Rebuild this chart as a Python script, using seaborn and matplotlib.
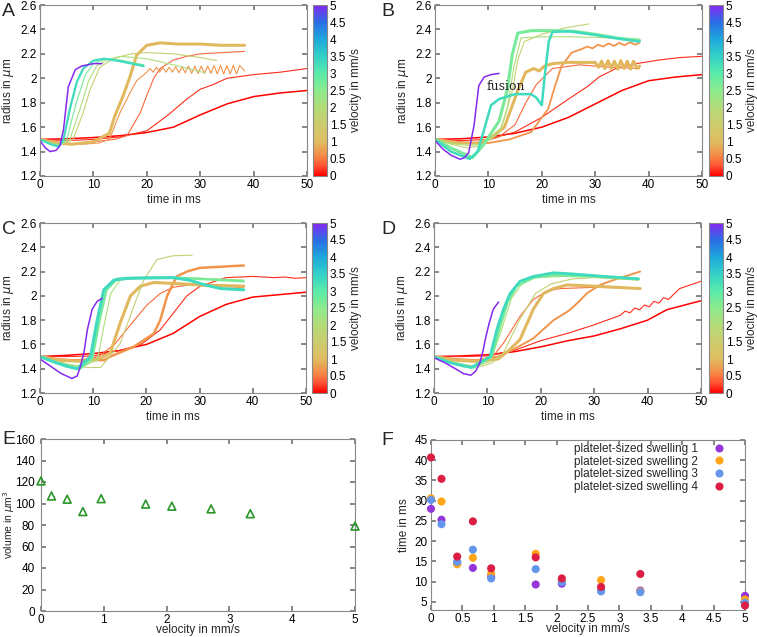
import numpy as np
import pandas as pd
import seaborn as sns
import matplotlib.pyplot as plt
from matplotlib.colors import LinearSegmentedColormap, Normalize
from matplotlib.cm import ScalarMappable
from matplotlib.ticker import FormatStrFormatter, MultipleLocator

# velocities of the ten simulations (mm/s)
velocities = [0, 0.167, 0.417, 0.667, 0.958, 1.667, 2.083, 2.708, 3.333, 5.0]

# ---- panel A: radius vs time, one curve per velocity ----
a_time = [
    [0, 5, 10, 15, 20, 25, 30, 35, 40, 45, 50],
    [0, 5, 10, 15, 20, 24, 27.5, 30, 32.5, 35, 40, 45, 50],
    [0, 3, 6, 10, 14, 16.3, 18.8, 20, 21.3, 22.5, 25, 27.5, 30, 34, 38.3],
    [0, 4, 8, 11, 13, 15, 16.9, 18.1, 19.2, 20, 20.6, 21.2, 21.8, 22.4, 23.0, 23.6, 24.2, 24.8, 25.4, 26,
     26.6, 27.2, 27.8, 28.4, 29, 29.6, 30.2, 30.8, 31.4, 32, 32.6, 33.2, 33.8, 34.4, 35, 35.6, 36.2, 36.8, 37.4, 38.3],
    [0, 3, 6, 10, 13, 14, 15.6, 16.9, 18.1, 20, 22.5, 26, 30, 34, 38.3],
    [0, 2, 4, 6.2, 8.1, 9.4, 11.2, 13.7, 17, 20, 25, 30, 33.1],
    [0, 2, 3.8, 5.6, 7.5, 9.1, 10.6, 12.5, 15, 20, 25, 30.9],
    [0, 2, 3.6, 5.0, 6.8, 8.5, 10, 12.5, 15, 19.5],
    [0, 2, 3.5, 4.4, 5.6, 6.9, 8.1, 10, 12, 15, 19.4],
    [0, 1, 1.9, 3, 3.75, 4.4, 5.3, 6.6, 7.8, 10, 11.6],
]
a_radius = [
    [1.50, 1.505, 1.515, 1.53, 1.556, 1.60, 1.70, 1.79, 1.85, 1.88, 1.90],
    [1.50, 1.49, 1.50, 1.52, 1.57, 1.70, 1.83, 1.91, 1.95, 2.00, 2.03, 2.05, 2.08],
    [1.50, 1.48, 1.465, 1.48, 1.50, 1.53, 1.72, 1.86, 2.00, 2.08, 2.15, 2.18, 2.20, 2.21, 2.22],
    [1.50, 1.47, 1.46, 1.47, 1.50, 1.72, 1.885, 1.98, 2.02, 2.05, 2.08, 2.05, 2.09, 2.05, 2.09, 2.05, 2.09, 2.05,
     2.095, 2.045, 2.095, 2.045, 2.10, 2.04, 2.10, 2.04, 2.10, 2.04, 2.10, 2.04, 2.105, 2.035, 2.105, 2.035,
     2.105, 2.035, 2.105, 2.035, 2.105, 2.06],
    [1.50, 1.47, 1.46, 1.48, 1.55, 1.69, 1.86, 2.02, 2.19, 2.27, 2.29, 2.28, 2.28, 2.27, 2.27],
    [1.50, 1.47, 1.46, 1.50, 1.72, 1.91, 2.09, 2.16, 2.20, 2.21, 2.20, 2.17, 2.145],
    [1.50, 1.47, 1.455, 1.50, 1.75, 1.98, 2.10, 2.15, 2.18, 2.16, 2.11, 2.045],
    [1.50, 1.46, 1.45, 1.50, 1.80, 2.03, 2.12, 2.16, 2.15, 2.11],
    [1.50, 1.46, 1.44, 1.50, 1.75, 1.97, 2.08, 2.145, 2.16, 2.14, 2.10],
    [1.49, 1.43, 1.40, 1.41, 1.45, 1.58, 1.93, 2.07, 2.10, 2.12, 2.12],
]

# ---- panel B ----
b_time = [
    [0, 5, 10, 15, 20, 25, 30, 35, 40, 45, 50],
    [0, 5, 10, 15, 20, 25, 28.8, 30.7, 33.9, 37.7, 42, 46, 50],
    [0, 4, 8, 12, 15, 17, 19, 22, 27, 33, 38.3],
    [0, 6, 10, 14, 18, 21.2, 22.5, 23.7, 25.6, 27.5, 28.5, 29.5, 30.5, 31.5, 32.5, 33.5, 34.5, 35.5,
     36.5, 37.5, 38.3],
    [0, 4, 8, 10, 13, 15.5, 17, 18.5, 19.5, 20.5, 22, 25, 28, 30, 30.6, 31.2, 31.8, 32.4, 33, 33.6,
     34.2, 34.8, 35.4, 36, 36.6, 37.2, 37.8, 38.3],
    [0, 3, 6, 9, 12.5, 14.5, 15.5, 16.7, 20, 24, 28.8],
    [0, 3, 6, 9, 12, 13.5, 14.8, 16.1, 20, 25, 30, 38.3],
    [0, 3, 7, 9, 12, 13.5, 14.5, 15.5, 18, 22, 26, 30, 34, 38.3],
    [0, 3, 6.5, 8, 9, 10.5, 12, 15, 18, 19, 20, 20.5, 21.3, 22, 25, 30, 35, 38.3],
    [0, 1.5, 3, 4.7, 5.5, 6.3, 7.3, 8.2, 9.2, 10.5, 12],
]
b_radius = [
    [1.50, 1.505, 1.52, 1.55, 1.60, 1.68, 1.79, 1.90, 1.98, 2.01, 2.03],
    [1.50, 1.49, 1.50, 1.56, 1.68, 1.83, 1.94, 2.01, 2.08, 2.12, 2.15, 2.17, 2.18],
    [1.50, 1.48, 1.47, 1.52, 1.62, 1.80, 1.95, 2.08, 2.11, 2.09, 2.08],
    [1.50, 1.47, 1.47, 1.50, 1.56, 1.75, 1.94, 2.10, 2.21, 2.24, 2.26, 2.245, 2.275, 2.26, 2.285, 2.265,
     2.29, 2.27, 2.295, 2.275, 2.29],
    [1.50, 1.47, 1.47, 1.50, 1.60, 1.90, 2.05, 2.08, 2.06, 2.10, 2.12, 2.13, 2.13, 2.13, 2.09, 2.14,
     2.08, 2.145, 2.08, 2.14, 2.075, 2.145, 2.08, 2.14, 2.075, 2.14, 2.08, 2.10],
    [1.50, 1.46, 1.43, 1.45, 1.60, 1.90, 2.15, 2.30, 2.36, 2.41, 2.445],
    [1.50, 1.47, 1.45, 1.46, 1.55, 1.75, 2.10, 2.33, 2.34, 2.34, 2.335, 2.32],
    [1.50, 1.43, 1.35, 1.45, 1.65, 1.90, 2.20, 2.37, 2.39, 2.39, 2.385, 2.36, 2.33, 2.31],
    [1.50, 1.40, 1.34, 1.40, 1.55, 1.78, 1.83, 1.87, 1.87, 1.84, 1.78, 2.00, 2.30, 2.38, 2.385, 2.355, 2.32, 2.30],
    [1.49, 1.42, 1.37, 1.337, 1.35, 1.39, 1.61, 1.94, 2.01, 2.03, 2.04],
]

# ---- panel C ----
c_time = [
    [0, 5, 10, 15, 20, 25, 30, 35, 40, 45, 50],
    [0, 5, 10, 15, 19, 22.6, 25.1, 27.6, 30.1, 35, 40, 44, 46, 48, 50],
    [0, 4, 8, 11, 14, 17, 20, 22.6, 25, 28, 33, 38.3],
    [0, 3, 6, 9, 12, 13.2, 17.6, 21.4, 22.6, 23.9, 25.7, 27.6, 30, 34, 38.3],
    [0, 4, 8, 11, 13.2, 15.1, 17, 18.9, 21.4, 26, 30, 38.3],
    [0, 3, 6, 9, 11.4, 15.1, 17.6, 19.5, 22, 25, 28.6],
    [0, 3, 6, 8, 10.8, 12, 13.3, 15.1, 20, 25, 30, 38.3],
    [0, 3, 5.5, 7.5, 9.8, 11.2, 12.5, 14.5, 20, 25, 30, 38.3],
    [0, 3, 5, 7, 9.5, 10.75, 12, 13.9, 16.4, 25, 28, 31, 34, 38.3],
    [0, 2, 4, 6, 7, 7.6, 8.25, 8.9, 9.8, 10.75, 11.7],
]
c_radius = [
    [1.50, 1.51, 1.525, 1.55, 1.60, 1.69, 1.83, 1.93, 1.99, 2.01, 2.03],
    [1.50, 1.50, 1.505, 1.55, 1.60, 1.72, 1.86, 2.00, 2.08, 2.15, 2.16, 2.15, 2.155, 2.145, 2.15],
    [1.50, 1.48, 1.47, 1.50, 1.60, 1.76, 1.92, 2.02, 2.07, 2.09, 2.08, 2.07],
    [1.50, 1.47, 1.465, 1.475, 1.47, 1.50, 1.58, 1.69, 1.80, 2.00, 2.16, 2.20, 2.23, 2.24, 2.25],
    [1.50, 1.47, 1.46, 1.48, 1.53, 1.78, 2.00, 2.08, 2.11, 2.10, 2.09, 2.08],
    [1.50, 1.46, 1.43, 1.41, 1.41, 1.61, 1.91, 2.13, 2.30, 2.33, 2.335],
    [1.50, 1.46, 1.43, 1.42, 1.47, 1.75, 2.02, 2.13, 2.15, 2.15, 2.145, 2.13],
    [1.50, 1.45, 1.42, 1.40, 1.48, 1.80, 2.05, 2.14, 2.15, 2.15, 2.14, 2.12],
    [1.50, 1.45, 1.42, 1.40, 1.50, 1.80, 2.05, 2.13, 2.145, 2.15, 2.13, 2.09, 2.06, 2.05],
    [1.48, 1.42, 1.36, 1.32, 1.34, 1.42, 1.53, 1.72, 1.89, 1.955, 1.98],
]

# ---- panel D ----
d_time = [
    [0, 5, 10, 15, 20, 25, 30, 35, 40, 43.6, 50],
    [0, 5, 10, 15, 19.9, 24.9, 29.9, 34.9, 35.8, 36.7, 37.6, 38.5, 39.4, 40.3, 41.2, 42.1, 43, 43.9, 46, 50],
    [0, 4, 8, 11, 13, 16.1, 18.6, 21.1, 23.6, 30, 38.3],
    [0, 4, 8, 12, 14.9, 18.6, 22.4, 25, 26.1, 27.3, 28.6, 31.1, 33.6, 38.6],
    [0, 4, 8, 12, 14, 16.1, 18.6, 20.5, 22.4, 24.9, 29.9, 38.6],
    [0, 3, 6, 9, 11, 13, 16, 19, 22, 26, 30, 38.3],
    [0, 3, 6, 8, 10.5, 12.5, 14.5, 16.5, 19, 24, 30, 38.3],
    [0, 3, 5.5, 7.5, 10.8, 12.4, 13.8, 15.5, 18.6, 22.4, 30, 38.3],
    [0, 3, 5, 7, 10.5, 11.75, 13, 14.25, 16.1, 18.6, 22.4, 26.1, 32, 38.3],
    [0, 2, 4, 5.5, 6.9, 7.8, 8.6, 9.2, 9.6, 10.3, 11.1, 12.1],
]
d_radius = [
    [1.50, 1.505, 1.515, 1.54, 1.58, 1.63, 1.67, 1.73, 1.80, 1.886, 1.96],
    [1.50, 1.50, 1.505, 1.55, 1.63, 1.69, 1.76, 1.84, 1.875, 1.86, 1.90, 1.885, 1.925, 1.91, 1.955, 1.94,
     1.985, 1.97, 2.06, 2.12],
    [1.50, 1.48, 1.47, 1.50, 1.61, 1.83, 1.97, 2.04, 2.06, 2.07, 2.065],
    [1.50, 1.48, 1.47, 1.50, 1.56, 1.65, 1.80, 1.87, 1.91, 1.96, 2.02, 2.09, 2.13, 2.20],
    [1.50, 1.47, 1.46, 1.48, 1.55, 1.64, 1.89, 2.02, 2.06, 2.09, 2.08, 2.06],
    [1.50, 1.46, 1.43, 1.42, 1.45, 1.53, 1.80, 2.02, 2.10, 2.14, 2.15, 2.13],
    [1.50, 1.46, 1.43, 1.42, 1.46, 1.70, 1.98, 2.10, 2.15, 2.16, 2.155, 2.13],
    [1.50, 1.45, 1.42, 1.41, 1.50, 1.75, 1.95, 2.08, 2.15, 2.17, 2.16, 2.14],
    [1.50, 1.45, 1.43, 1.41, 1.50, 1.72, 1.89, 2.02, 2.12, 2.16, 2.19, 2.18, 2.16, 2.14],
    [1.49, 1.45, 1.40, 1.36, 1.346, 1.38, 1.45, 1.55, 1.64, 1.77, 1.89, 1.95],
]

# ---- panel E: volume vs velocity ----
e_velocity = [0, 0.167, 0.417, 0.667, 0.958, 1.667, 2.083, 2.708, 3.333, 5.0]
e_volume = [121, 107, 104, 92.5, 104.5, 99.5, 97.5, 95, 90.5, 79]

# ---- panel F: time vs velocity for four swellings ----
f_velocity = [0, 0.167, 0.417, 0.667, 0.958, 1.667, 2.083, 2.708, 3.333, 5.0]
f_swelling1 = [28.0, 25.3, 14.6, 13.4, 11.3, 9.3, 9.5, 7.8, 7.8, 6.5]
f_swelling2 = [30.6, 29.8, 14.3, 15.9, 12.0, 16.9, 10.3, 10.4, 7.6, 5.6]
f_swelling3 = [30.2, 24.2, 14.9, 17.9, 10.8, 13.1, 9.9, 7.6, 7.4, 4.8]
f_swelling4 = [40.7, 35.4, 16.2, 24.9, 13.3, 16.0, 10.8, 8.7, 11.9, 4.1]
f_labels = ["platelet-sized swelling 1", "platelet-sized swelling 2",
            "platelet-sized swelling 3", "platelet-sized swelling 4"]
f_colors = ["#9436d8", "#ffa516", "#6496ec", "#dc1e44"]

FS = 8.5

sns.set_theme(style="ticks")
plt.rcParams["font.family"] = ["Liberation Sans", "DejaVu Sans"]
plt.rcParams.update({
    "xtick.direction": "in", "ytick.direction": "in",
    "xtick.top": True, "ytick.right": True,
    "xtick.major.size": 3.5, "ytick.major.size": 3.5,
    "xtick.major.pad": 2.0, "ytick.major.pad": 2.5,
    "xtick.color": "#777777", "ytick.color": "#777777",
    "xtick.labelcolor": "black", "ytick.labelcolor": "black",
    "axes.edgecolor": "#888888", "axes.linewidth": 0.8,
    "font.size": FS, "axes.labelsize": FS,
    "xtick.labelsize": FS, "ytick.labelsize": FS,
})

# gnuplot-like velocity palette
cmap = LinearSegmentedColormap.from_list("velo", [
    (0.00, (1.00, 0.00, 0.00)),
    (0.06, (1.00, 0.33, 0.20)),
    (0.12, (0.96, 0.55, 0.28)),
    (0.20, (0.88, 0.74, 0.38)),
    (0.30, (0.80, 0.80, 0.43)),
    (0.40, (0.70, 0.86, 0.47)),
    (0.50, (0.55, 0.92, 0.55)),
    (0.60, (0.35, 0.92, 0.67)),
    (0.70, (0.20, 0.82, 0.78)),
    (0.80, (0.12, 0.66, 0.86)),
    (0.90, (0.16, 0.43, 0.90)),
    (1.00, (0.52, 0.16, 0.94)),
])
norm = Normalize(0, 5)

W, H = 757, 637
fig = plt.figure(figsize=(W / 100, H / 100), dpi=100)


def box(left, top, right, bottom):
    return [left / W, 1 - bottom / H, (right - left) / W, (bottom - top) / H]


def radius_panel(pos, cpos, times, radii, thick, letter, lpos):
    ax = fig.add_axes(box(*pos))
    for i, v in enumerate(velocities):
        lw = thick.get(i, 0.8)
        sns.lineplot(x=times[i], y=radii[i], ax=ax, color=cmap(norm(v)), lw=lw,
                     sort=False, estimator=None)
    ax.set_xlim(0, 50)
    ax.set_ylim(1.2, 2.6)
    ax.xaxis.set_major_locator(MultipleLocator(10))
    ax.yaxis.set_major_locator(MultipleLocator(0.2))
    ax.yaxis.set_major_formatter(FormatStrFormatter("%g"))
    ax.set_xlabel("time in ms", labelpad=2)
    ax.set_ylabel(r"radius in $\mu$m", labelpad=3)
    cax = fig.add_axes(box(*cpos))
    cb = fig.colorbar(ScalarMappable(norm=norm, cmap=cmap), cax=cax)
    cb.set_ticks(np.arange(0, 5.01, 0.5))
    cb.ax.yaxis.set_major_formatter(FormatStrFormatter("%g"))
    cb.ax.tick_params(direction="in", left=True, right=True, color="#222222", length=3, width=0.7, pad=2)
    cb.outline.set_edgecolor("#888888")
    cb.outline.set_linewidth(0.8)
    cb.set_label("velocity in mm/s", labelpad=3)
    fig.text(lpos[0] / W, 1 - lpos[1] / H, letter, fontsize=14, va="top", ha="left")
    return ax


axA = radius_panel((40, 5, 307, 176), (313, 5, 327, 176), a_time, a_radius,
                   {0: 1.1, 4: 2.2, 8: 1.6, 9: 1.1}, "A", (2, 3))
axB = radius_panel((435, 5, 702, 176), (709, 5, 723, 176), b_time, b_radius,
                   {0: 1.1, 3: 1.3, 4: 2.2, 7: 2.2, 8: 1.8, 9: 1.1}, "B", (381, 3))
axB.text(9.7, 1.93, "fusion", family=["DejaVu Serif"], fontsize=9, va="center", ha="left", color="#222222")
axC = radius_panel((40, 223, 306, 393), (312, 223, 327, 393), c_time, c_radius,
                   {0: 1.1, 3: 1.8, 4: 2.2, 7: 1.8, 8: 2.2, 9: 1.1}, "C", (2, 221))
axD = radius_panel((434, 223, 701, 393), (709, 223, 723, 393), d_time, d_radius,
                   {0: 1.1, 3: 1.4, 4: 2.2, 7: 1.8, 8: 2.0, 9: 1.1}, "D", (381, 221))

# panel E
axE = fig.add_axes(box(41, 439, 355, 611))
sns.scatterplot(x=e_velocity, y=e_volume, ax=axE, marker="^", s=32, fc="none",
                ec="#2a962a", linewidth=1.2, legend=False, clip_on=False, zorder=3)
axE.set_xlim(0, 5)
axE.set_ylim(0, 160)
axE.xaxis.set_major_locator(MultipleLocator(1))
axE.yaxis.set_major_locator(MultipleLocator(20))
axE.tick_params(axis="y", pad=4.5)
axE.set_xlabel("velocity in mm/s")
axE.set_ylabel(r"volume in $\mu$m$^3$", fontsize=7.5)
axE.xaxis.set_label_coords(0.5, -0.078)
axE.yaxis.set_label_coords(-0.077, 0.5)
fig.text(2 / W, 1 - 431 / H, "E", fontsize=14, va="top", ha="left")

# panel F
axF = fig.add_axes(box(431, 440, 745, 610))
f_series = [f_swelling1, f_swelling2, f_swelling3, f_swelling4]
df_f = pd.concat([pd.DataFrame({"velocity": f_velocity, "time": vals, "series": lab})
                  for vals, lab in zip(f_series, f_labels)])
sns.scatterplot(data=df_f, x="velocity", y="time", hue="series", palette=f_colors,
                s=34, linewidth=0, ax=axF, clip_on=False, zorder=3)
axF.set_xlim(0, 5)
axF.set_ylim(3, 45)
axF.xaxis.set_major_locator(MultipleLocator(0.5))
axF.xaxis.set_major_formatter(FormatStrFormatter("%g"))
axF.yaxis.set_major_locator(MultipleLocator(5))
axF.yaxis.set_major_formatter(FormatStrFormatter("%g"))
axF.set_ylim(3, 45)
axF.set_xlabel("velocity in mm/s")
axF.set_ylabel("time in ms", labelpad=3)
axF.xaxis.set_label_coords(0.5, -0.078)
axF.legend(loc="upper right", bbox_to_anchor=(0.978, 1.024), frameon=False, markerfirst=False,
           fontsize=FS, labelspacing=0.05, handletextpad=0.8, borderaxespad=0.2, title=None)
fig.text(381 / W, 1 - 432 / H, "F", fontsize=14, va="top", ha="left")

fig.savefig("out.png", dpi=100)
